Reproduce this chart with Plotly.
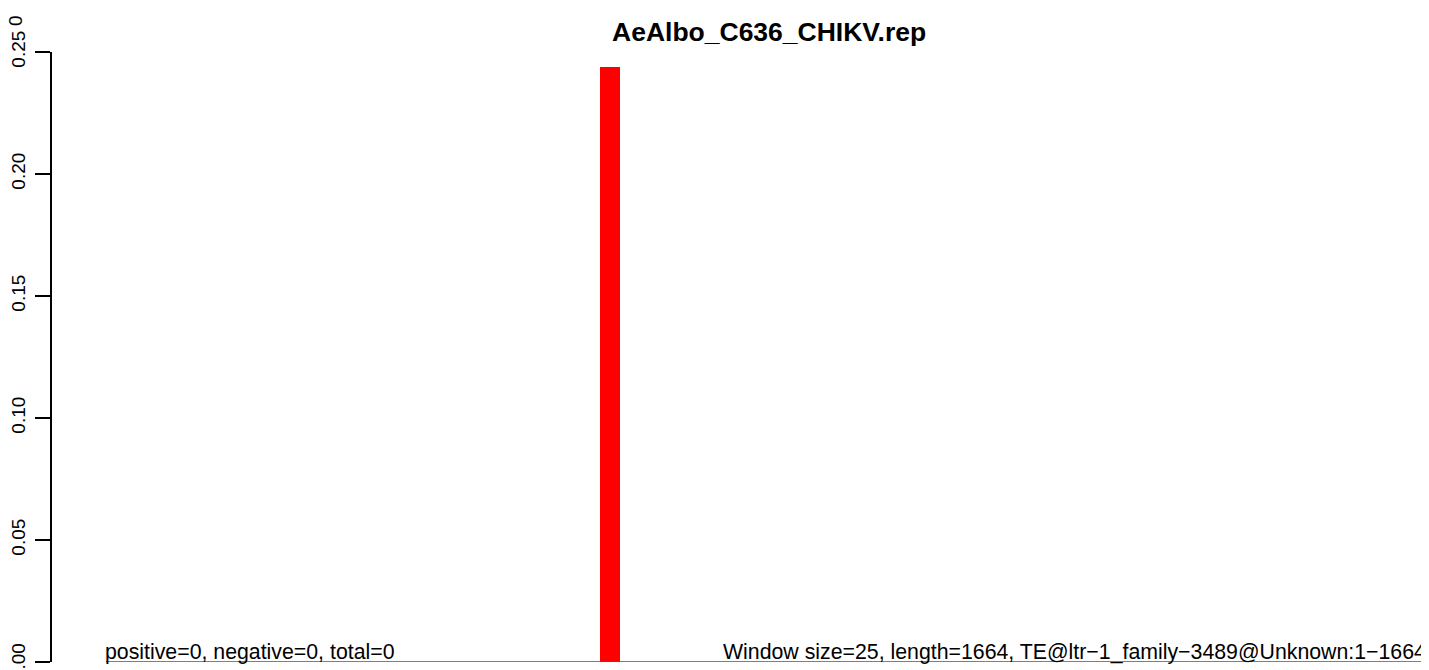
import plotly.graph_objects as go

title_text = "AeAlbo_C636_CHIKV.rep"
window_size = 25
seq_length = 1664
bar_positions = [631]
bar_values = [0.244]
baseline_x = [0, seq_length]
baseline_y = [0, 0]
y_ticks = [0.00, 0.05, 0.10, 0.15, 0.20, 0.25]
y_tick_labels = ["0.00", "0.05", "0.10", "0.15", "0.20", "0.25"]
left_note = "positive=0, negative=0, total=0"
right_note = "Window size=25, length=1664, TE@ltr\u22121_family\u22123489@Unknown:1\u22121664"

# page has an 8px body margin; figure sized to fit the 1429x670 viewport
OFF = 8
W, H = 1429 - OFF, 670 - OFF
L, R, T, B = 50 - OFF, 0, 52 - OFF, 8
PW, PH = W - L - R, H - T - B

def px_x(vx):
    return (vx - OFF - L) / PW

def px_y(vy):
    return 1 - (vy - OFF - T) / PH

fig = go.Figure()
fig.add_trace(go.Scatter(x=baseline_x, y=baseline_y, mode="lines",
                         line=dict(color="#555555", width=1.6), hoverinfo="skip",
                         showlegend=False, cliponaxis=False))
fig.add_trace(go.Bar(x=bar_positions, y=bar_values, width=window_size,
                     marker=dict(color="#FF0000", line=dict(width=0)), showlegend=False))

fig.update_layout(
    width=W, height=H,
    margin=dict(l=L, r=R, t=T, b=B, pad=0),
    paper_bgcolor="white", plot_bgcolor="white",
    font=dict(family="Liberation Sans, Arial, sans-serif", color="black"),
    bargap=0,
)
fig.update_xaxes(range=[-67.5, 1656.25], visible=False, showgrid=False, zeroline=False)
# the lowest label is drawn as an annotation (plotly hides a label that overflows the page)
fig.update_yaxes(range=[0, 0.25], tickvals=y_ticks,
                 ticktext=[""] + y_tick_labels[1:],
                 tickangle=-90, ticks="outside", ticklen=15, tickwidth=1.5, tickcolor="black",
                 showline=True, linecolor="black", linewidth=1.5,
                 showgrid=False, zeroline=False, tickfont=dict(size=19),
                 ticklabelstandoff=3)
fig.add_annotation(text=y_tick_labels[0], xref="paper", yref="y",
                   x=px_x(16), y=y_ticks[0], xanchor="center", yanchor="middle",
                   textangle=-90, showarrow=False, font=dict(size=19, color="black"))

fig.add_annotation(text="<b>" + title_text + "</b>", xref="paper", yref="paper",
                   x=px_x(768), y=px_y(32),
                   xanchor="center", yanchor="middle", showarrow=False,
                   font=dict(size=26.5, color="black"))
fig.add_annotation(text=left_note, xref="x", yref="paper", x=0, y=0,
                   xanchor="left", yanchor="bottom", showarrow=False,
                   font=dict(size=21.3, color="black"), xshift=-3, yshift=-4)
fig.add_annotation(text=right_note, xref="paper", yref="paper",
                   x=px_x(1428), y=0, xanchor="right", yanchor="bottom",
                   showarrow=False, font=dict(size=21.3, color="black"), yshift=-4)
fig.add_annotation(text="0", xref="paper", yref="paper",
                   x=px_x(14), y=px_y(21),
                   xanchor="center", yanchor="middle", textangle=-90, showarrow=False,
                   font=dict(size=19, color="black"))

fig.write_html("out.html")
